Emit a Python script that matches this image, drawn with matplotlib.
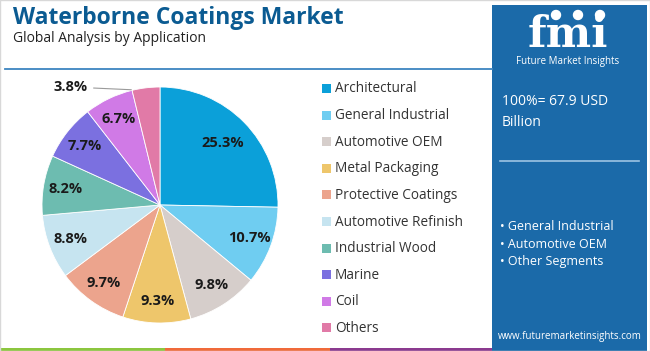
import matplotlib.pyplot as plt
import matplotlib.patches as mpatches
import numpy as np

# Data
categories = ['Architectural', 'General Industrial', 'Automotive OEM', 'Metal Packaging',
              'Protective Coatings', 'Automotive Refinish', 'Industrial Wood', 'Marine',
              'Coil', 'Others']
shares = [25.3, 10.7, 9.8, 9.3, 9.7, 8.8, 8.2, 7.7, 6.7, 3.8]
colors = ['#0ba0d9', '#6fcdf1', '#d6cecb', '#eec66b', '#eca48d', '#c6e4f0',
          '#6dbcb0', '#7b70e0', '#d07ae6', '#e17aa7']
market_total = '100%= 67.9 USD\nBillion'
key_segments = ['General Industrial', 'Automotive OEM', 'Other Segments']

W, H = 650, 351
plt.rcParams['font.family'] = ['Open Sans', 'DejaVu Sans']

fig = plt.figure(figsize=(W / 100, H / 100), dpi=100)
fig.patch.set_facecolor('white')


def fx(px):
    return px / W


def fy(py):
    return 1 - py / H


# Header
fig.text(fx(13), fy(18), 'Waterborne Coatings Market', fontsize=16.5, fontweight='bold',
         color='#0b5b92', va='center', ha='left')
fig.text(fx(13), fy(39), 'Global Analysis by Application', fontsize=10,
         color='#222222', va='center', ha='left')
fig.add_artist(plt.Line2D([fx(5), fx(492)], [fy(69), fy(69)], color='#3d85c0', lw=1.3))

# Bottom colour strip
for x0, x1, c in [(0, 165, '#8cc63f'), (165, 330, '#f06a3a'), (330, 492, '#8b3a8f')]:
    fig.add_artist(mpatches.Rectangle((fx(x0), 0), fx(x1) - fx(x0), 3 / H,
                                      color=c, transform=fig.transFigure, lw=0))

# Right blue panel
panel_color = '#1b6aa9'
fig.add_artist(mpatches.Rectangle((fx(492), 0), fx(647) - fx(492), fy(5),
                                  color=panel_color, transform=fig.transFigure, lw=0))
fig.text(fx(568), fy(47), 'fmi', fontsize=31, fontweight='bold', family='DejaVu Serif',
         color='white', ha='center', va='baseline')
for yy in range(22, 48, 4):
    fig.add_artist(plt.Line2D([fx(515), fx(622)], [fy(yy), fy(yy)], color=panel_color, lw=0.8))
for cx in [556, 578, 600]:
    fig.add_artist(mpatches.Ellipse((fx(cx), fy(15)), 9 / W, 9 / H, color='white',
                                    transform=fig.transFigure))
fig.text(fx(568), fy(56), 'Future Market Insights', fontsize=7, color='white',
         ha='center', va='top')
fig.text(fx(502), fy(112), market_total, fontsize=10, color='white', ha='left',
         va='center', linespacing=1.55)
fig.add_artist(plt.Line2D([fx(500), fx(639)], [fy(161), fy(161)], color='#9cc3e3', lw=1.2))
for i, seg in enumerate(key_segments):
    fig.text(fx(500), fy(227 + i * 17.5), '\u2022 ' + seg, fontsize=9, color='white',
             ha='left', va='center')
fig.text(fx(570), fy(336), 'www.futuremarketinsights.com', fontsize=7, color='white',
         ha='center', va='center')

# Pie
cx, cy, r = 160, 205, 118
ax = fig.add_axes([fx(cx - r), (H - cy - r) / H, 2 * r / W, 2 * r / H])
wedges, _ = ax.pie(shares, colors=colors, startangle=90, counterclock=False,
                   wedgeprops=dict(edgecolor='white', linewidth=0.6))
ax.set_xlim(-1, 1)
ax.set_ylim(-1, 1)
ax.set_aspect('equal')
ax.axis('off')

for w, val in zip(wedges, shares):
    mid = np.deg2rad((w.theta1 + w.theta2) / 2)
    label = f'{val}%'
    if val < 5:
        edge = np.deg2rad(w.theta2 - 1)
        ax.annotate(label, xy=(np.cos(edge), np.sin(edge)), xytext=(-0.61, 1.0),
                    ha='right', va='center', fontsize=10.5, fontweight='bold',
                    color='#1a1a1a', annotation_clip=False,
                    arrowprops=dict(arrowstyle='-', color='#9a9a9a', lw=0.8))
    else:
        d = 0.75 if val > 20 else 0.81
        ax.text(d * np.cos(mid), d * np.sin(mid), label, ha='center', va='center',
                fontsize=10.5, fontweight='bold', color='#1a1a1a')

# Legend
for i, (cat, c) in enumerate(zip(categories, colors)):
    y = 89 + i * 26.6
    fig.add_artist(mpatches.Rectangle((fx(322), fy(y + 4)), 9 / W, 9 / H, color=c,
                                      transform=fig.transFigure, lw=0))
    fig.text(fx(335), fy(y), cat, fontsize=9.8, color='#333333', ha='left', va='center')

# Thin border
fig.add_artist(mpatches.Rectangle((0, 0), 1, 1, fill=False, edgecolor='#d8d8d8', lw=1,
                                  transform=fig.transFigure))

fig.savefig('out.png', dpi=100)
